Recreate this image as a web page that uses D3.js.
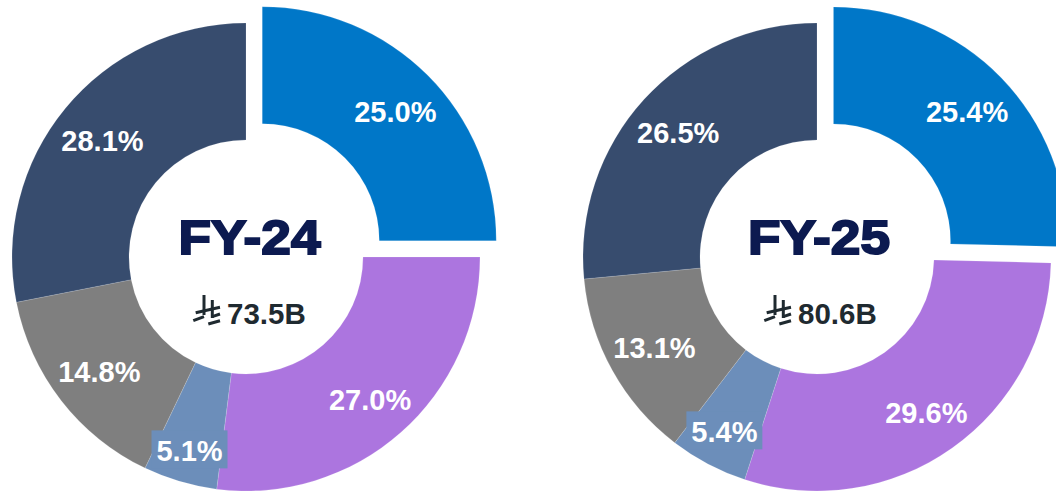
<!DOCTYPE html>
<html>
<head>
<meta charset="utf-8">
<script src="https://cdn.jsdelivr.net/npm/d3@7"></script>
<style>
    html, body { margin: 0; padding: 0; background: #fff; }
    svg { display: block; }
    text { font-family: "Liberation Sans", Arial, sans-serif; font-weight: bold; }
</style>
</head>
<body>
<svg id="chart" width="1056" height="492"></svg>
<script>
var segments = ['Blue', 'Purple', 'Steel', 'Gray', 'Navy'];
var segmentColors = ['#0077C8', '#AC75DF', '#6C8EBA', '#7F7F7F', '#374C6E'];
var years = ['FY-24', 'FY-25'];
var totals = ['73.5B', '80.6B'];
var values24 = [25.0, 27.0, 5.1, 14.8, 28.1];
var values25 = [25.4, 29.6, 5.4, 13.1, 26.5];

// label shifts away from the slice centroid, done by hand in the original
var nudge24 = [[9, -5], [8, 11], [-7, 26], [-8, 7], [-8, -5]];
var nudge25 = [[8, -6], [8, 13], [-11, 20], [-9, 6], [-9, -6]];
var titleX = [3.5, 2];

var outerR = 234, innerR = 117, explode = 23;
var centers = [[246, 257], [817, 257]];

var svg = d3.select('#chart');
var color = d3.scaleOrdinal().domain(segments).range(segmentColors);
var pie = d3.pie().sort(null);
var arc = d3.arc().innerRadius(innerR).outerRadius(outerR);

function drawDonut(idx, values, nudge) {
    var g = svg.append('g')
        .attr('transform', 'translate(' + centers[idx][0] + ',' + centers[idx][1] + ')');
    var arcs = pie(values);

    function shift(d, i) {
        if (i != 0) return [0, 0];
        var mid = (d.startAngle + d.endAngle) / 2;
        return [Math.sin(mid) * explode, -Math.cos(mid) * explode];
    }

    g.selectAll('.slice')
        .data(arcs)
        .enter().append('path')
        .attr('class', 'slice')
        .attr('d', arc)
        .attr('fill', (d, i) => color(segments[i]))
        .attr('stroke', '#fff')
        .attr('stroke-width', 0.15)
        .attr('transform', (d, i) => 'translate(' + shift(d, i) + ')');

    // the small slice label sits on its own box
    var pos = arcs.map((d, i) => {
        var c = arc.centroid(d), s = shift(d, i);
        return [c[0] + s[0] + nudge[i][0], c[1] + s[1] + nudge[i][1]];
    });
    g.append('rect')
        .attr('x', pos[2][0] - 38)
        .attr('y', pos[2][1] - 21)
        .attr('width', 76)
        .attr('height', 38)
        .attr('fill', color(segments[2]));

    g.selectAll('.pct')
        .data(arcs)
        .enter().append('text')
        .attr('class', 'pct')
        .attr('x', (d, i) => pos[i][0])
        .attr('y', (d, i) => pos[i][1] + 10)
        .attr('text-anchor', 'middle')
        .attr('fill', '#fff')
        .style('font-size', '29px')
        .text(d => d.value.toFixed(1) + '%');

    g.append('text')
        .attr('x', titleX[idx])
        .attr('y', -3)
        .attr('text-anchor', 'middle')
        .attr('fill', '#0C1A50')
        .attr('stroke', '#0C1A50')
        .attr('stroke-width', 2)
        .attr('textLength', 142)
        .attr('lengthAdjust', 'spacingAndGlyphs')
        .style('font-size', '49px')
        .text(years[idx]);

    g.append('text')
        .attr('x', -19)
        .attr('y', 67)
        .attr('fill', '#1F2A30')
        .style('font-size', '29.5px')
        .text(totals[idx]);

    // riyal sign, no installed font has it
    var sign = g.append('g')
        .attr('transform', 'translate(-53,39)')
        .attr('fill', 'none')
        .attr('stroke', '#1F2A30')
        .attr('stroke-width', 3);
    sign.append('path').attr('d', 'M11 -1 V19');
    sign.append('path').attr('d', 'M19.3 4 V22');
    sign.append('path').attr('d', 'M2.7 16.7 L27 11.3');
    sign.append('path').attr('d', 'M0.3 24.7 L11 20.7');
    sign.append('path').attr('d', 'M19.3 20.7 L27 18');
    sign.append('path').attr('d', 'M15.3 28 L27 24.7');
}

drawDonut(0, values24, nudge24);
drawDonut(1, values25, nudge25);
</script>
</body>
</html>
